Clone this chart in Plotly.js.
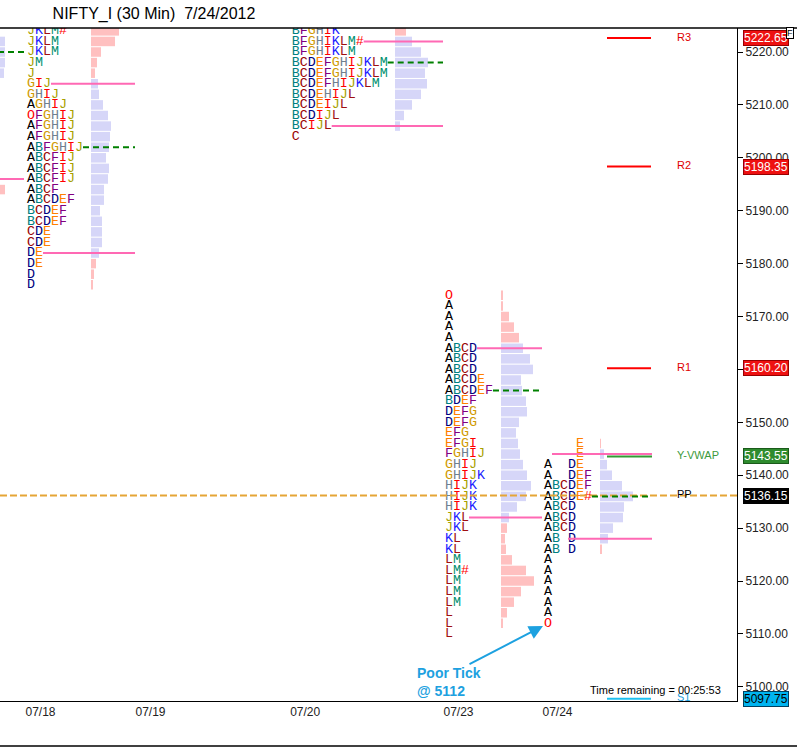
<!DOCTYPE html>
<html><head><meta charset="utf-8">
<script src="https://cdn.plot.ly/plotly-3.0.1.min.js"></script>
<style>html,body{margin:0;padding:0;background:#fff}</style>
</head><body><div id="chart" style="width:797px;height:747px"></div>
<script>
// ---------------- DATA ----------------
const dayLabels = ['07/18','07/19','07/20','07/23','07/24'];

// 07/17 (previous day, mostly off-screen)
const price17 = [5222,5220,5218,5216,5194];
const vol17   = [17,17,17,16,17];
const poc17 = 5220, vah17 = 5230, val17 = 5196;

// 07/18
const price18 = [5224,5222,5220,5218,5216,5214,5212,5210,5208,5206,5204,5202,5200,5198,5196,5194,5192,5190,5188,5186,5184,5182,5180,5178,5176];
const tpo18   = ['JKLM#','JKLM','JKLM','JM','J','GIJ','GHIJ','AGHIJ','OFGHIJ','AFGHIJ','AFGHIJ','ABFGHIJ','ABCFIJ','ABCFIJ','ABCFIJ','ABCF','ABCDEF','BCDEF','BCDEF','CDE','CDE','DE','DE','D','D'];
const vol18   = [28,24,10,6,4,7,8,12,17,20,19,18,15,18,17,13,13,9,11,11,11,8,5,3,2];
const poc18 = 5202, vah18 = 5214, val18 = 5182;

// 07/20
const price20 = [5224,5222,5220,5218,5216,5214,5212,5210,5208,5206,5204];
const tpo20   = ['BFGHIK','BFGHIKLM#','BFGHIKLM','BCDEFGHIJKLM','BCDEFGHIJKLM','BCDEFHIJKLM','BCDEHIJL','BCDEIJL','BCDIJL','BCIJL','C'];
const vol20   = [11,17,26,33,30,32,26,17,9,5,0];
const poc20 = 5218, vah20 = 5222, val20 = 5206;

// 07/23
const price23 = [5174,5172,5170,5168,5166,5164,5162,5160,5158,5156,5154,5152,5150,5148,5146,5144,5142,5140,5138,5136,5134,5132,5130,5128,5126,5124,5122,5120,5118,5116,5114,5112,5110];
const tpo23   = ['O','A','A','A','A','ABCD','ABCD','ABCD','ABCDE','ABCDEF','BDEF','DEFG','DEFG','EFG','EFGI','FGHIJ','GHIJ','GHIJK','HIJK','HIJK','HIJK','JKL','JKL','KL','KL','LM','LM#','LM','LM','LM','L','L','L'];
const vol23   = [2,2,8,13,18,22,29,32,20,21,25,26,18,15,17,19,22,26,30,25,16,8,6,4,5,11,25,33,20,13,6,2,0];
const poc23 = 5156, vah23 = 5164, val23 = 5132;

// 07/24
const price24 = [5146,5144,5142,5140,5138,5136,5134,5132,5130,5128,5126,5124,5122,5120,5118,5116,5114,5112];
const tpo24   = ['    E','    E','A  DE','A  DEF','ABCDEF','ABCDE#','ABCD','ABCD','ABCD','AB D','AB D','A','A','A','A','A','A','O'];
const vol24   = [1,4,7,12,22,33,24,23,13,8,2,0,0,0,0,0,0,0];
const poc24 = 5136, vah24 = 5144, val24 = 5128;

// pivot levels
const levelNames  = ['R3','R2','R1','Y-VWAP','PP','S1'];
const levelValues = [5222.65,5198.35,5160.20,5143.55,5136.15,5097.75];

// ---------------- LAYOUT / STYLE ----------------
const CH = 8;          // monospace char width in x units (px)
const VOL_PX = 1;      // bar length per volume unit
const BLUE = '#d6d6f8', PINK = '#ffc0c0';
const VA_LINE = '#ff69b4', POC_LINE = '#008000';
const POS = {
  d17: {text:null, bar:-12, end:24, lineStart:-12},
  d18: {text:27, bar:91, end:135},
  d19: {text:137},
  d20: {text:291.7, bar:395, end:443},
  d23: {text:445, bar:501, end:542},
  d24: {text:544, bar:600, end:652}
};
const LETTER_COLORS = {A:'#000000',B:'#008080',C:'#990000',D:'#000080',E:'#ff8000',F:'#800080',G:'#d09a00',H:'#708090',I:'#ff0000',J:'#a8a000',K:'#2020ff',L:'#a01010',M:'#009070',O:'#ff0000','#':'#ff0000'};
const LEVEL_STYLE = {
  'R3':    {line:'#ff0000', x0:607, x1:651, dash:'solid', label:'#e00000', bg:'#ee1111', fg:'#ffffff', bd:'#990000'},
  'R2':    {line:'#ff0000', x0:607, x1:651, dash:'solid', label:'#e00000', bg:'#ee1111', fg:'#ffffff', bd:'#990000'},
  'R1':    {line:'#ff0000', x0:607, x1:651, dash:'solid', label:'#e00000', bg:'#ee1111', fg:'#ffffff', bd:'#990000'},
  'Y-VWAP':{line:'#339933', x0:607, x1:652, dash:'solid', label:'#3c9a3c', bg:'#2e8b2e', fg:'#ffffff', bd:'#1a5a1a'},
  'PP':    {line:'#e5a536', x0:0,   x1:737, dash:'7px,3px', label:'#000000', bg:'#000000', fg:'#ffffff', bd:'#000000'},
  'S1':    {line:'#1ec0f0', x0:607, x1:651, dash:'solid', label:'#1ea0e0', bg:'#00b4f0', fg:'#000000', bd:'#004060'}
};

const days = [
  {price:price17, tpo:null,  vol:vol17, poc:poc17, vah:vah17, val:val17, pos:POS.d17},
  {price:price18, tpo:tpo18, vol:vol18, poc:poc18, vah:vah18, val:val18, pos:POS.d18},
  {price:price20, tpo:tpo20, vol:vol20, poc:poc20, vah:vah20, val:val20, pos:POS.d20},
  {price:price23, tpo:tpo23, vol:vol23, poc:poc23, vah:vah23, val:val23, pos:POS.d23},
  {price:price24, tpo:tpo24, vol:vol24, poc:poc24, vah:vah24, val:val24, pos:POS.d24}
];

function colorize(s){
  return s.split('').map(c => c === ' ' ? '\u00a0' :
    '<span style="color:' + (LETTER_COLORS[c] || '#000') + '">' + c + '</span>').join('');
}
function lineStart(d, p){
  const i = d.price.indexOf(p);
  if(!d.tpo || i < 0) return d.pos.lineStart !== undefined ? d.pos.lineStart : d.pos.bar;
  return d.pos.text + d.tpo[i].replace(/ /g,'').length * CH;
}

const traces = [];
// volume bars
days.forEach(d => {
  traces.push({type:'bar', orientation:'h', y:d.price, x:d.vol.map(v => v*VOL_PX), base:d.pos.bar,
    width:1.8, marker:{color:d.price.map(p => (p <= d.vah && p >= d.val) ? BLUE : PINK), line:{width:0}},
    hoverinfo:'skip', showlegend:false});
});
// TPO letters
days.forEach(d => {
  if(!d.tpo) return;
  traces.push({type:'scatter', mode:'text', x:d.price.map(() => d.pos.text), y:d.price,
    text:d.tpo.map(colorize), textposition:'middle right',
    textfont:{family:'Liberation Mono, Courier New, monospace', size:13.33, color:'#000'},
    hoverinfo:'skip', showlegend:false});
});
// level lines
levelNames.forEach((n, i) => {
  const s = LEVEL_STYLE[n];
  traces.push({type:'scatter', mode:'lines', x:[s.x0, s.x1], y:[levelValues[i], levelValues[i]],
    line:{color:s.line, width:2, dash:s.dash}, hoverinfo:'skip', showlegend:false});
});
// value area + POC lines
days.forEach(d => {
  [d.vah, d.val].forEach(p => {
    traces.push({type:'scatter', mode:'lines', x:[lineStart(d,p), d.pos.end], y:[p,p],
      line:{color:VA_LINE, width:2}, hoverinfo:'skip', showlegend:false});
  });
  traces.push({type:'scatter', mode:'lines', x:[lineStart(d,d.poc), d.pos.end], y:[d.poc,d.poc],
    line:{color:POC_LINE, width:2, dash:'6px,4px'}, hoverinfo:'skip', showlegend:false});
});
// level labels
traces.push({type:'scatter', mode:'text', x:levelNames.map(() => 677), y:levelValues, text:levelNames,
  textposition:'middle right', textfont:{family:'Liberation Sans, Arial', size:11, color:levelNames.map(n => LEVEL_STYLE[n].label)},
  hoverinfo:'skip', showlegend:false});
// price tag pointers
traces.push({type:'scatter', mode:'markers', x:levelNames.map(() => 744), y:levelValues, cliponaxis:false,
  marker:{symbol:'triangle-left', size:12, color:levelNames.map(n => LEVEL_STYLE[n].bg), line:{width:0}},
  hoverinfo:'skip', showlegend:false});

const annotations = [];
levelNames.forEach((n, i) => {
  const s = LEVEL_STYLE[n];
  annotations.push({xref:'paper', yref:'y', x:743/737, y:levelValues[i], xanchor:'left', yanchor:'middle',
    text:levelValues[i].toFixed(2), showarrow:false, bgcolor:s.bg, bordercolor:s.bd, borderwidth:1, borderpad:0,
    font:{family:'Liberation Sans, Arial', size:12, color:s.fg}});
});
annotations.push({x:415, y:5101.0, xanchor:'left', yanchor:'middle', showarrow:false, align:'left',
  text:'<b>Poor Tick</b><br><b>@ 5112</b>', font:{family:'Liberation Sans, Arial', size:14, color:'#1da1e0'}});
annotations.push({x:543, y:5111.5, ax:-75, ay:39, text:' ', showarrow:true, arrowhead:2, arrowsize:1.4,
  arrowwidth:2, arrowcolor:'#1da1e0', font:{size:1}});
annotations.push({x:588, y:5099.4, xanchor:'left', yanchor:'middle', showarrow:false,
  text:'Time remaining = 00:25:53', font:{family:'Liberation Sans, Arial', size:11, color:'#000'}});
annotations.push({xref:'paper', yref:'paper', x:790/737, y:(701-33)/673, xanchor:'center', yanchor:'middle',
  showarrow:false, text:'F', bgcolor:'#fff', bordercolor:'#000', borderwidth:1, borderpad:0,
  font:{family:'Liberation Sans, Arial', size:9, color:'#000'}});

const tickStarts = [POS.d18.text, POS.d19.text, POS.d20.text, POS.d23.text, POS.d24.text];

const layout = {
  width:797, height:747,
  margin:{l:0, r:60, t:28, b:46, pad:0},
  paper_bgcolor:'#fff', plot_bgcolor:'#fff',
  barmode:'overlay', showlegend:false, hovermode:false,
  title:{text:'NIFTY_I (30 Min)\u00a0\u00a07/24/2012', xref:'container', yref:'container', x:154/797, xanchor:'center',
    y:1-13/747, yanchor:'middle', font:{family:'Liberation Sans, Arial', size:16, color:'#000'}},
  xaxis:{range:[0,737], showgrid:false, zeroline:false, showline:true, linecolor:'#000', linewidth:1,
    tickvals:tickStarts.map(x => x + 13.5), ticktext:dayLabels, ticks:'', fixedrange:true,
    tickfont:{family:'Liberation Sans, Arial', size:12, color:'#222'}},
  yaxis:{range:[5097.32, 5224.54], side:'right', showgrid:false, zeroline:false, showline:true,
    linecolor:'#000', linewidth:1, ticks:'outside', ticklen:5, tickcolor:'#000', dtick:10, tick0:5100,
    tickformat:'.2f', fixedrange:true, tickfont:{family:'Liberation Sans, Arial', size:12, color:'#222'}},
  shapes:[
    {type:'line', xref:'paper', yref:'paper', x0:0, x1:797/737, y0:1, y1:1, line:{color:'#000', width:1.5}},
    {type:'line', xref:'paper', yref:'paper', x0:0, x1:797/737, y0:-45/673, y1:-45/673, line:{color:'#000', width:1.5}}
  ],
  annotations:annotations
};

Plotly.newPlot('chart', traces, layout, {displayModeBar:false, staticPlot:true});
</script></body></html>
